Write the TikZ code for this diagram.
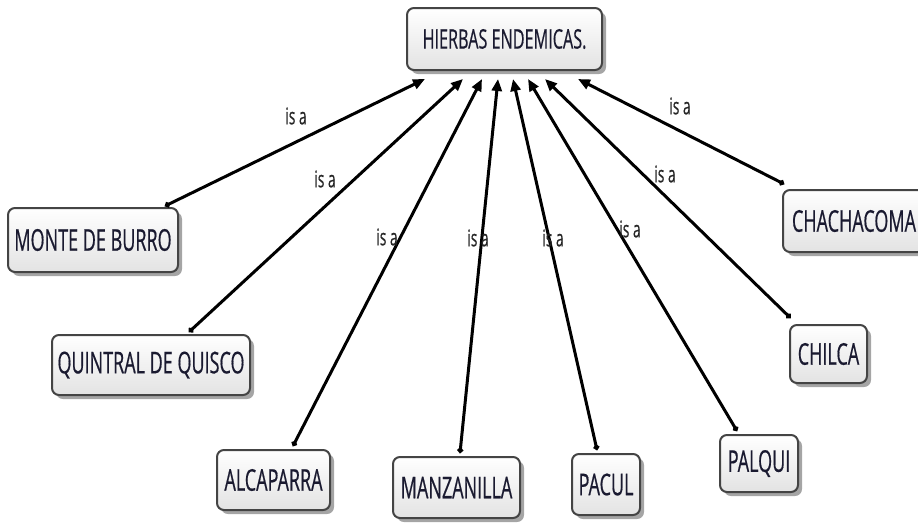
\documentclass[tikz,border=0pt]{standalone}
\usepackage{fontspec}
\setmainfont{Open Sans}[FakeStretch=0.6,FakeBold=0.5]
\usetikzlibrary{arrows.meta,shadows,calc}
\definecolor{boxline}{HTML}{444444}
\definecolor{txt}{HTML}{1A1A30}
\tikzset{
  concept/.style={draw=boxline, line width=2pt, rounded corners=7pt,
    top color=white, bottom color=black!11, text=txt,
    drop shadow={shadow xshift=4pt, shadow yshift=-4pt, fill=black!70},
    inner sep=0pt, font=\fontsize{30}{30}\selectfont},
  rootbox/.style={concept, font=\fontsize{27}{27}\selectfont},
  isa/.style={line width=3pt, {Circle[length=5.5pt]}-{Triangle[length=12pt,width=10pt]}},
  lbl/.style={text=black!85, inner sep=0pt, font=\fontsize{23}{23}\selectfont}
}
\begin{document}
\begin{tikzpicture}[x=1pt,y=-1pt]
\useasboundingbox (0,0) rectangle (918,523);
\node[rootbox, minimum width=195pt, minimum height=62pt] (root) at (504.5,39) {HIERBAS ENDEMICAS.};
\node[concept, minimum width=170pt, minimum height=64pt] (monte) at (93,240) {MONTE DE BURRO};
\node[concept, minimum width=198pt, minimum height=60pt] (quin) at (151,365) {QUINTRAL DE QUISCO};
\node[concept, minimum width=113pt, minimum height=60pt] (alca) at (273.5,480) {ALCAPARRA};
\node[concept, minimum width=127pt, minimum height=61pt] (manz) at (456.5,487.5) {MANZANILLA};
\node[concept, minimum width=68pt, minimum height=61pt] (pacul) at (606,484.5) {PACUL};
\node[concept, minimum width=78pt, minimum height=57pt] (palqui) at (759,463.5) {PALQUI};
\node[concept, minimum width=77pt, minimum height=58pt] (chilca) at (828.5,354) {CHILCA};
\node[concept, minimum width=142pt, minimum height=62pt] (chach) at (854,221) {CHACHACOMA};

\coordinate (t1) at ($(root.south)+(-79.5,8)$);
\coordinate (t2) at ($(root.south)+(-41.5,8)$);
\coordinate (t3) at ($(root.south)+(-22.5,8)$);
\coordinate (t4) at ($(root.south)+(-6.5,8)$);
\coordinate (t5) at ($(root.south)+(8.5,8)$);
\coordinate (t6) at ($(root.south)+(23.5,8)$);
\coordinate (t7) at ($(root.south)+(40.5,8)$);
\coordinate (t8) at ($(root.south)+(73.5,8)$);

\coordinate (s1) at ($(monte.north)+(72,-1)$);
\coordinate (s2) at ($(quin.north)+(38,-2)$);
\coordinate (s3) at ($(alca.north)+(19.5,-3)$);
\coordinate (s4) at ($(manz.north)+(3.5,-3)$);
\coordinate (s5) at ($(pacul.north)+(-9,-3)$);
\coordinate (s6) at ($(palqui.north)+(-22,-3)$);
\coordinate (s7) at ($(chilca.north)+(-38,-6)$);
\coordinate (s8) at ($(chach.north west)+(2,-5)$);

\draw[isa] (s1) -- (t1);
\draw[isa] (s2) -- (t2);
\draw[isa] (s3) -- (t3);
\draw[isa] (s4) -- (t4);
\draw[isa] (s5) -- (t5);
\draw[isa] (s6) -- (t6);
\draw[isa] (s7) -- (t7);
\draw[isa] (s8) -- (t8);

\node[lbl] (l1) at (296,116) {is a};
\node[lbl] (l2) at (325,179) {is a};
\node[lbl] (l3) at (387,237) {is a};
\node[lbl] (l4) at (478,238) {is a};
\node[lbl] (l5) at (553,238) {is a};
\node[lbl] (l6) at (630,229) {is a};
\node[lbl] (l7) at (665,174) {is a};
\node[lbl] (l8) at (680,106) {is a};
\end{tikzpicture}
\end{document}
